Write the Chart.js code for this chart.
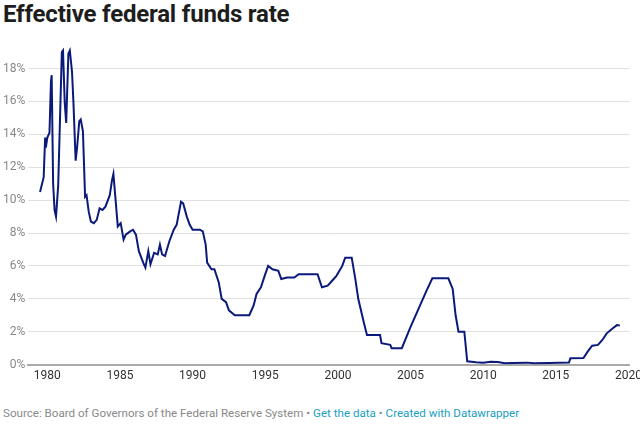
<!DOCTYPE html>
<html><head><meta charset="utf-8">
<script src="https://cdn.jsdelivr.net/npm/chart.js@4"></script>
<style>
body{margin:0;background:#fff;font-family:Roboto,sans-serif;width:640px;height:427px;position:relative;overflow:hidden}
h1{position:absolute;left:3px;top:0;margin:0;font-size:24px;font-weight:700;color:#1d1d1d;letter-spacing:-0.2px}
#wrap{position:absolute;left:0;top:37px;width:646px;height:350px}
.src{position:absolute;left:3px;top:406px;font-size:11.6px;color:#888}
.src a{color:#1a9ebf;text-decoration:none}
</style></head><body>
<h1>Effective federal funds rate</h1>
<div id="wrap"><canvas id="c"></canvas></div>
<div class="src">Source: Board of Governors of the Federal Reserve System • <a>Get the data</a> • <a>Created with Datawrapper</a></div>
<script>
const years=[1979.5,1979.75,1979.85,1979.9,1980.0,1980.15,1980.25,1980.3,1980.4,1980.5,1980.6,1980.75,1980.9,1981.0,1981.08,1981.2,1981.3,1981.45,1981.55,1981.7,1981.8,1981.95,1982.05,1982.2,1982.3,1982.45,1982.6,1982.7,1982.85,1983.0,1983.2,1983.4,1983.6,1983.8,1984.0,1984.3,1984.45,1984.55,1984.7,1984.85,1985.05,1985.25,1985.4,1985.7,1985.9,1986.1,1986.3,1986.6,1986.75,1986.95,1987.1,1987.35,1987.6,1987.75,1987.9,1988.1,1988.4,1988.7,1988.9,1989.2,1989.35,1989.6,1989.8,1990.0,1990.5,1990.7,1990.9,1991.0,1991.3,1991.5,1991.8,1992.0,1992.3,1992.5,1992.9,1993.2,1993.9,1994.2,1994.4,1994.7,1995.0,1995.2,1995.5,1995.9,1996.1,1996.5,1997.0,1997.3,1998.0,1998.6,1998.9,1999.3,1999.6,1999.9,2000.3,2000.5,2000.95,2001.2,2001.4,2001.8,2002.0,2002.9,2003.0,2003.6,2003.7,2004.4,2005.0,2005.6,2006.1,2006.5,2007.6,2007.9,2008.1,2008.3,2008.7,2008.9,2009.5,2010.0,2010.5,2011.0,2011.5,2012.0,2013.0,2013.5,2014.5,2015.9,2016.0,2016.9,2017.2,2017.5,2017.9,2018.2,2018.5,2018.9,2019.2,2019.4];
const rates=[10.5,11.4,13.8,13.2,13.8,14.1,17.2,17.6,11.0,9.4,9.0,10.9,15.8,19.0,19.1,15.9,14.7,18.9,19.1,17.8,15.9,12.4,13.2,14.8,14.9,14.2,10.2,10.3,9.3,8.7,8.6,8.8,9.5,9.4,9.6,10.3,11.2,11.6,10.0,8.4,8.6,7.6,7.9,8.1,8.2,7.9,6.9,6.2,5.9,6.9,6.1,6.8,6.7,7.3,6.7,6.6,7.5,8.2,8.5,9.9,9.8,9.0,8.5,8.2,8.2,8.1,7.3,6.2,5.8,5.8,5.0,4.0,3.8,3.3,3.0,3.0,3.0,3.6,4.3,4.7,5.5,6.0,5.8,5.7,5.2,5.3,5.3,5.5,5.5,5.5,4.7,4.8,5.1,5.4,6.0,6.5,6.5,5.2,4.0,2.5,1.8,1.8,1.3,1.2,1.0,1.0,2.3,3.5,4.5,5.25,5.25,4.6,3.0,2.0,2.0,0.2,0.15,0.12,0.18,0.16,0.08,0.1,0.12,0.08,0.09,0.13,0.38,0.4,0.8,1.15,1.2,1.5,1.9,2.2,2.4,2.38];
const yTicks=[0,2,4,6,8,10,12,14,16,18];
const xTicks=[1980,1985,1990,1995,2000,2005,2010,2015,2020];
new Chart(document.getElementById('c'),{type:'line',
data:{datasets:[{data:years.map((y,i)=>({x:y,y:rates[i]})),borderColor:'#0b1a7a',borderWidth:2,pointRadius:0,tension:0}]},
options:{responsive:true,maintainAspectRatio:false,animation:false,
plugins:{legend:{display:false},tooltip:{enabled:false}},
layout:{padding:{left:0,right:0,top:0,bottom:0}},
scales:{
x:{type:'linear',min:1978.69,max:2020.07,afterBuildTicks:a=>{a.ticks=xTicks.map(v=>({value:v}))},
 grid:{display:false,drawTicks:false},border:{color:'#aaa',width:2},
 ticks:{color:'#333',font:{family:'Roboto',size:12},padding:4,callback:v=>v,maxRotation:0}},
y:{min:0,max:19.3,afterBuildTicks:a=>{a.ticks=yTicks.map(v=>({value:v}))},
 grid:{color:'#e0e0e0',drawTicks:false},border:{display:false},
 ticks:{color:'#888',font:{family:'Roboto',size:12},padding:3,callback:v=>v+'%'}}
}}});
</script></body></html>
